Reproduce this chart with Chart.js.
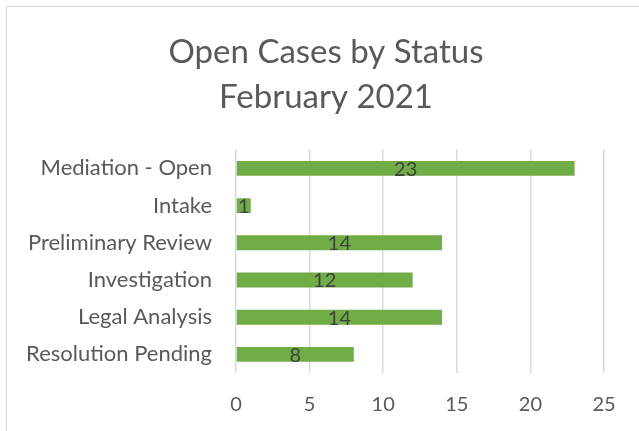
<!DOCTYPE html>
<html>
<head>
<meta charset="utf-8">
<script src="https://cdn.jsdelivr.net/npm/chart.js@4"></script>
<style>
  html, body { margin: 0; padding: 0; background: #fff; }
  #wrap { position: relative; width: 639px; height: 431px; overflow: hidden; }
  #frame {
    position: absolute; left: 6px; top: 6px; width: 700px; height: 500px;
    border: 1px solid #d9d9d9;
  }
  canvas { position: absolute; left: 0; top: 0; }
</style>
</head>
<body>
<div id="wrap">
  <div id="frame"></div>
  <canvas id="chart" width="639" height="431"></canvas>
</div>
<script>
const titleLines = ["Open Cases by Status", "February 2021"];
const statuses = [
  "Mediation - Open",
  "Intake",
  "Preliminary Review",
  "Investigation",
  "Legal Analysis",
  "Resolution Pending",
];
const openCases = [23, 1, 14, 12, 14, 8];
const xTicks = [0, 5, 10, 15, 20, 25];

const FONT = "Lato, 'Open Sans', sans-serif";

// 막대 안에 값 적기
const barLabels = {
  id: "barLabels",
  afterDatasetsDraw(chart) {
    const ctx = chart.ctx;
    const meta = chart.getDatasetMeta(0);
    ctx.save();
    ctx.font = `20px ${FONT}`;
    ctx.fillStyle = "#404040";
    ctx.textAlign = "center";
    ctx.textBaseline = "middle";
    meta.data.forEach((bar, i) => {
      ctx.fillText(String(openCases[i]), (bar.base + bar.x) / 2, bar.y + 1);
    });
    ctx.restore();
  },
};

// 제목을 테두리 기준 가운데로
const centerTitle = {
  id: "centerTitle",
  afterLayout(chart) {
    if (chart.titleBlock) {
      chart.titleBlock.left = 0;
      chart.titleBlock.right = 652;
    }
  },
};

function Main() {
  new Chart(document.getElementById("chart").getContext("2d"), {
    type: "bar",
    data: {
      labels: statuses,
      datasets: [
        {
          data: openCases,
          backgroundColor: "#70AD47",
          borderWidth: 0,
          barPercentage: 0.4,
          categoryPercentage: 1,
        },
      ],
    },
    options: {
      indexAxis: "y",
      responsive: false,
      animation: false,
      layout: { padding: { left: 0, right: 35, top: 0, bottom: 0 } },
      plugins: {
        legend: { display: false },
        tooltip: { enabled: false },
        title: {
          display: true,
          text: titleLines,
          color: "#595959",
          font: { family: FONT, size: 33, weight: "normal", lineHeight: 1.36 },
          padding: { top: 30, bottom: 30 },
        },
      },
      scales: {
        x: {
          min: xTicks[0],
          max: xTicks[xTicks.length - 1],
          afterBuildTicks: (scale) => {
            scale.ticks = xTicks.map((v) => ({ value: v }));
          },
          afterFit: (scale) => {
            scale.height = 58;
          },
          grid: { color: "#d9d9d9", lineWidth: 1.5, drawTicks: false },
          border: { display: false },
          ticks: {
            color: "#595959",
            padding: 20,
            font: { family: FONT, size: 20 },
          },
        },
        y: {
          afterFit: (scale) => {
            scale.width = 236;
          },
          grid: { display: false, drawTicks: false },
          border: { display: false },
          ticks: {
            color: "#595959",
            padding: 24,
            font: { family: FONT, size: 22 },
          },
        },
      },
    },
    plugins: [barLabels, centerTitle],
  });
}

Main();
</script>
</body>
</html>
